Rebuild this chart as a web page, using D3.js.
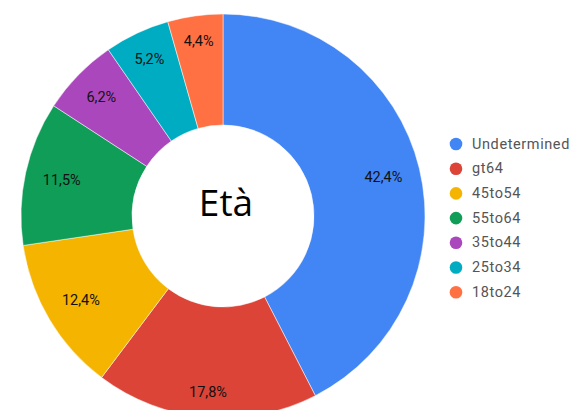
<!DOCTYPE html>
<html>
<head>
<meta charset="utf-8">
<script src="https://cdn.jsdelivr.net/npm/d3@7"></script>
<style>
  body { margin: 0; background: #fff; }
  svg { display: block; }
</style>
</head>
<body>
<div id="chart"></div>
<script>
'use strict'

// data
const categories = ['Undetermined', 'gt64', '45to54', '55to64', '35to44', '25to34', '18to24']
const values = [42.4, 17.8, 12.4, 11.5, 6.2, 5.2, 4.4]
const labels = ['42,4%', '17,8%', '12,4%', '11,5%', '6,2%', '5,2%', '4,4%']
const colors = ['#4285F4', '#DB4437', '#F4B400', '#0F9D58', '#AB47BC', '#00ACC1', '#FF7043']
const title = 'Età'

const svgWidth = 575
const svgHeight = 410

const cx = 223, cy = 216
const outerR = 202, innerR = 91

const svg = d3.select('#chart')
    .append('svg')
    .attr('width', svgWidth)
    .attr('height', svgHeight)

const g = svg.append('g')
    .attr('transform', `translate(${cx},${cy})`)

const data = categories.map((c, i) => ({ name: c, value: values[i], label: labels[i] }))

const color = d3.scaleOrdinal()
    .domain(categories)
    .range(colors)

const pie = d3.pie()
    .value(d => d.value)
    .sort(null)

const arc = d3.arc()
    .innerRadius(innerR)
    .outerRadius(outerR)

const arcs = pie(data)

// slices
g.selectAll('.slice')
    .data(arcs)
    .join('path')
    .attr('class', 'slice')
    .attr('d', arc)
    .attr('fill', d => color(d.data.name))
    .attr('stroke', '#fff')
    .attr('stroke-width', 0.5)

// percentage labels, pushed out so the text box touches a fixed radius
const labelEdge = 185
g.selectAll('.pct')
    .data(arcs)
    .join('text')
    .attr('class', 'pct')
    .attr('text-anchor', 'middle')
    .attr('dominant-baseline', 'central')
    .style('font-family', 'Roboto, Arial, sans-serif')
    .style('font-size', '14.5px')
    .style('fill', '#111')
    .text(d => d.data.label)
    .each(function (d) {
        const a = (d.startAngle + d.endAngle) / 2
        const sx = Math.sin(a), sy = -Math.cos(a)
        const w = this.getComputedTextLength()
        const h = 13
        const r = labelEdge - (Math.abs(sx) * w / 2 + Math.abs(sy) * h / 2)
        d3.select(this).attr('x', sx * r).attr('y', sy * r)
    })

// centre title
g.append('text')
    .attr('x', 3)
    .attr('y', 0)
    .attr('text-anchor', 'middle')
    .style('font-family', '"Open Sans", sans-serif')
    .style('font-size', '37px')
    .style('fill', '#000')
    .text(title)

// legend
const legend = svg.append('g')
    .attr('transform', 'translate(456,144)')

const rows = legend.selectAll('.row')
    .data(categories)
    .join('g')
    .attr('class', 'row')
    .attr('transform', (d, i) => `translate(0,${i * 24.7})`)

rows.append('circle')
    .attr('r', 6.3)
    .attr('fill', d => color(d))

rows.append('text')
    .attr('x', 16)
    .attr('y', 0)
    .attr('dominant-baseline', 'central')
    .style('font-family', 'Roboto, Arial, sans-serif')
    .style('font-size', '14.5px')
    .style('letter-spacing', '0.6px')
    .style('fill', '#555')
    .text(d => d)
</script>
</body>
</html>
